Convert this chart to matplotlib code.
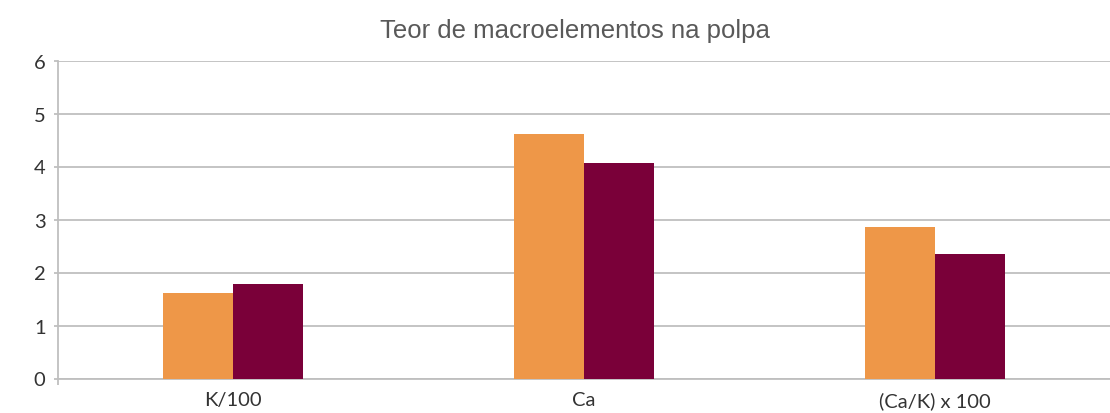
import numpy as np
import matplotlib.pyplot as plt

categories = ["K/100", "Ca", "(Ca/K) x 100"]
serie_1 = [1.62, 4.62, 2.86]
serie_2 = [1.79, 4.07, 2.35]
y_ticks = [0, 1, 2, 3, 4, 5, 6]

cor_1 = "#ee9748"
cor_2 = "#7a0039"
cinza = "#bfbfbf"


def plot_chart():
    fig = plt.figure(figsize=(11.1, 4.14), dpi=100)
    ax = fig.add_axes([58 / 1110, 34.5 / 414, 1 - 58 / 1110, (379.7 - 61.7) / 414])

    x = np.arange(len(categories))
    w = 0.2
    ax.bar(x - w / 2, serie_1, width=w, color=cor_1, zorder=3)
    ax.bar(x + w / 2, serie_2, width=w, color=cor_2, zorder=3)

    ax.set_xlim(-0.5, len(categories) - 0.5)
    ax.set_ylim(0, 6)
    ax.set_yticks(y_ticks)
    ax.set_xticks(x)
    ax.set_xticklabels(categories)
    ax.set_xticks([-0.5], minor=True)

    ax.grid(axis="y", color=cinza, linewidth=1.3, zorder=0)
    for s in ["top", "right"]:
        ax.spines[s].set_visible(False)
    for s in ["left", "bottom"]:
        ax.spines[s].set_color(cinza)
        ax.spines[s].set_linewidth(1.3)

    ax.tick_params(axis="y", length=3, color=cinza, width=1.3, pad=6,
                   labelsize=14.5, labelcolor="#333333")
    ax.tick_params(axis="x", which="major", length=0, pad=9,
                   labelsize=14.5, labelcolor="#333333")
    ax.tick_params(axis="x", which="minor", length=4, color=cinza, width=1.3)
    for lbl in ax.get_xticklabels() + ax.get_yticklabels():
        lbl.set_fontfamily("Lato")

    fig.text(575 / 1110, 1 - 31 / 414, "Teor de macroelementos na polpa",
             ha="center", va="center", fontsize=18.5, color="#595959",
             family="Liberation Sans")

    fig.savefig("out.png", dpi=100)


if __name__ == "__main__":
    plot_chart()
